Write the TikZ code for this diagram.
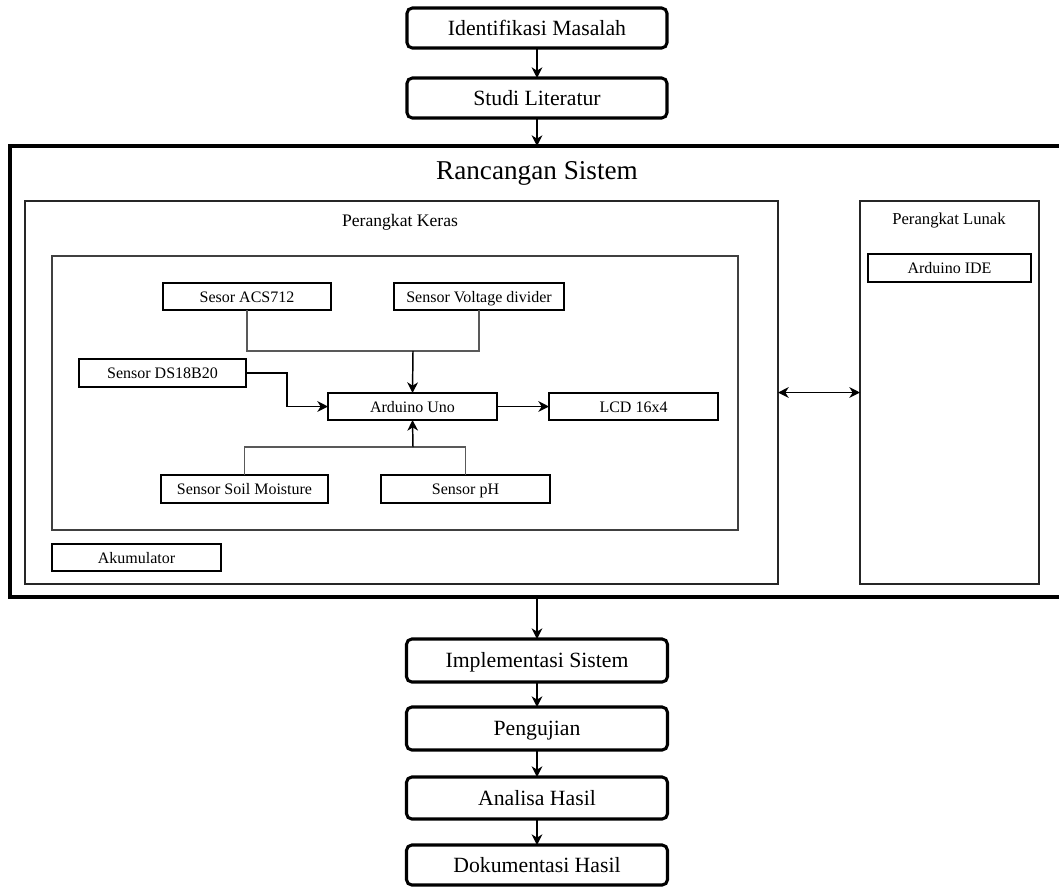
\documentclass[tikz,border=0pt]{standalone}
\usepackage{fontspec}
\setmainfont{Liberation Serif}
\usetikzlibrary{arrows.meta,calc}
\begin{document}
\begin{tikzpicture}[x=0.75pt,y=-0.75pt,
  every node/.style={inner sep=0pt,outer sep=0pt},
  flowbox/.style={draw,line width=2.3pt,rounded corners=4pt,fill=white,font=\fontsize{16.3pt}{18pt}\selectfont,text height=12.5pt,text depth=1.7pt},
  bigbox/.style={draw,line width=3pt},
  groupbox/.style={draw,line width=1.9pt,draw=black!85},
  innerbox/.style={draw,line width=1.1pt,draw=black!75},
  compbox/.style={draw,line width=0.9pt,font=\fontsize{12pt}{14pt}\selectfont,text height=10pt,text depth=1.5pt},
  flowarrow/.style={line width=1.1pt,-{Stealth[length=8pt,width=8pt,inset=2.5pt]}},
  conn/.style={line width=1.1pt,draw=black!65},
  connarrow/.style={line width=1.1pt,-{Stealth[length=8pt,width=8pt,inset=2.5pt]}},
  botharrow/.style={line width=1.1pt,{Stealth[length=8pt,width=8pt,inset=2.5pt]}-{Stealth[length=8pt,width=8pt,inset=2.5pt]}}
]
\useasboundingbox (0,0) rectangle (1059,886);
% flow top
\node[flowbox,minimum width=260*0.75pt,minimum height=40*0.75pt] (idm) at (537,28) {Identifikasi Masalah};
\node[flowbox,minimum width=260*0.75pt,minimum height=40*0.75pt] (stl) at (537,98) {Studi Literatur};
% big box
\node[bigbox,minimum width=1052.5*0.75pt,minimum height=451*0.75pt] (rs) at (535.75,371.5) {};
\node[font=\fontsize{20.4pt}{24pt}\selectfont] (rstitle) at (537,173) {Rancangan Sistem};
% perangkat keras
\node[groupbox,minimum width=753*0.75pt,minimum height=383*0.75pt] (pk) at (401.5,392.5) {};
\node[font=\fontsize{13.2pt}{15pt}\selectfont] (pktitle) at (400,222) {Perangkat Keras};
\node[innerbox,minimum width=686*0.75pt,minimum height=274*0.75pt] (inner) at (395,393) {};
\node[compbox,minimum width=168*0.75pt,minimum height=27*0.75pt] (acs) at (247,296.5) {Sesor ACS712};
\node[compbox,minimum width=170*0.75pt,minimum height=27*0.75pt] (vd) at (479,296.5) {Sensor Voltage divider};
\node[compbox,minimum width=167*0.75pt,minimum height=28*0.75pt] (ds) at (162.5,373) {Sensor DS18B20};
\node[compbox,minimum width=169*0.75pt,minimum height=27*0.75pt] (ard) at (412.5,406.5) {Arduino Uno};
\node[compbox,minimum width=169*0.75pt,minimum height=27*0.75pt] (lcd) at (633.5,406.5) {LCD 16x4};
\node[compbox,minimum width=167*0.75pt,minimum height=28*0.75pt] (soil) at (244.5,489) {Sensor Soil Moisture};
\node[compbox,minimum width=169*0.75pt,minimum height=28*0.75pt] (ph) at (465.5,489) {Sensor pH};
\node[compbox,minimum width=169*0.75pt,minimum height=27*0.75pt] (aku) at (136.5,557.5) {Akumulator};
% perangkat lunak
\node[groupbox,minimum width=179*0.75pt,minimum height=383*0.75pt] (pl) at (949.5,392.5) {};
\node[font=\fontsize{12.5pt}{15pt}\selectfont] (pltitle) at (949,221) {Perangkat Lunak};
\node[compbox,minimum width=163*0.75pt,minimum height=28*0.75pt] (ide) at (949.5,268) {Arduino IDE};
% flow bottom
\node[flowbox,minimum width=261*0.75pt,minimum height=43*0.75pt] (imp) at (537,660.5) {Implementasi Sistem};
\node[flowbox,minimum width=261*0.75pt,minimum height=43*0.75pt] (pen) at (537,728.5) {Pengujian};
\node[flowbox,minimum width=261*0.75pt,minimum height=42*0.75pt] (ana) at (537,798) {Analisa Hasil};
\node[flowbox,minimum width=261*0.75pt,minimum height=40*0.75pt] (dok) at (537,865) {Dokumentasi Hasil};
% junctions
\coordinate (tj) at (413,351);
\coordinate (bj) at (413,447);
\coordinate (dsj) at (287,373);
% flow arrows
\draw[flowarrow] (idm.south) -- (stl.north);
\draw[flowarrow] (stl.south) -- (stl.south |- rs.north);
\draw[flowarrow] (imp.north |- rs.south) -- (imp.north);
\draw[flowarrow] (imp.south) -- (pen.north);
\draw[flowarrow] (pen.south) -- (ana.north);
\draw[flowarrow] (ana.south) -- (dok.north);
% inner connectors
\draw[conn] (acs.south) |- (vd.south |- tj) -- (vd.south);
\draw[connarrow] (tj) -- (ard.north);
\draw[connarrow] (ds.east) -- (dsj) |- (ard.west);
\draw[connarrow] (ard.east) -- (lcd.west);
\draw[conn] (soil.north) |- (ph.north |- bj) -- (ph.north);
\draw[connarrow] (bj) -- (ard.south);
\draw[botharrow] (pk.east) -- (pl.west);
\end{tikzpicture}
\end{document}
